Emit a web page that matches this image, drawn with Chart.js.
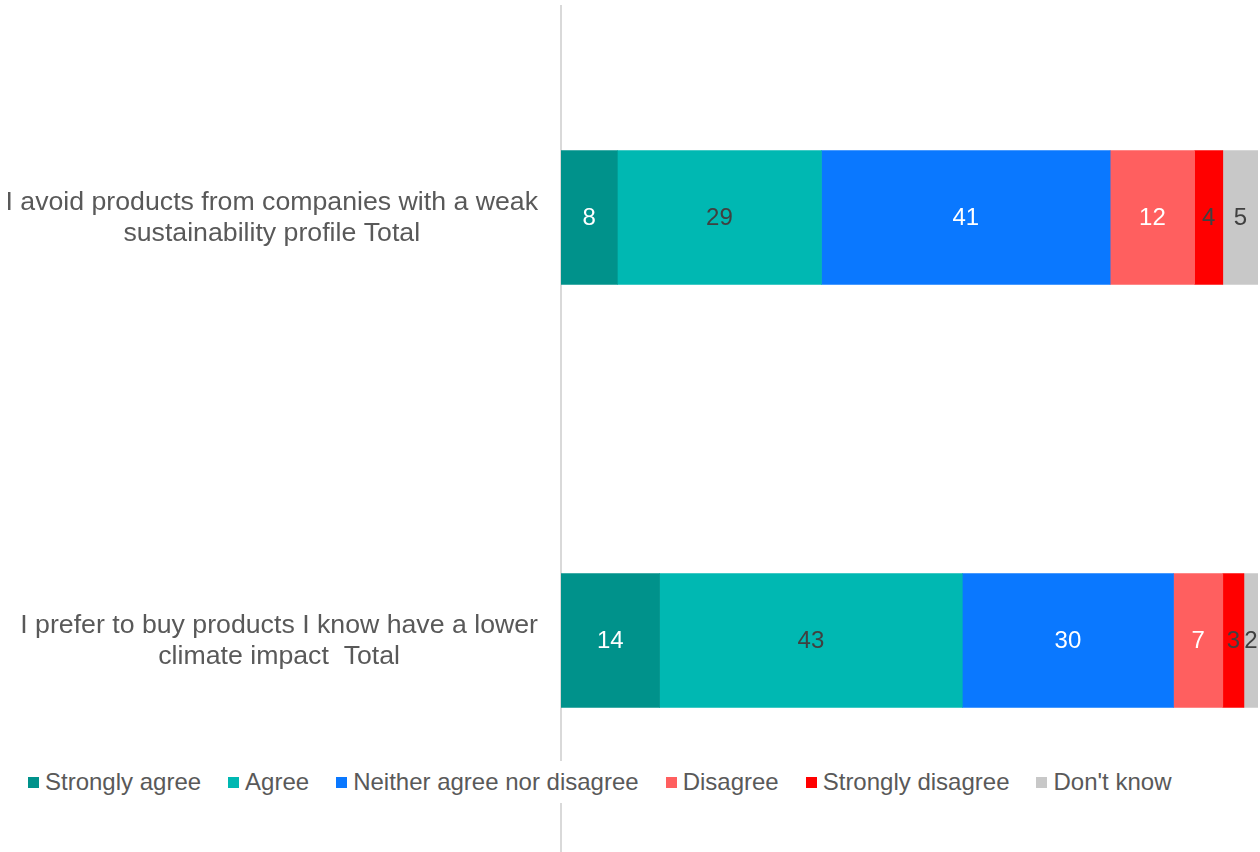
<!DOCTYPE html>
<html>
<head>
<meta charset="utf-8">
<title>Climate impact and sustainability attitudes</title>
<script src="https://cdn.jsdelivr.net/npm/chart.js@4.4.1/dist/chart.umd.min.js"></script>
<style>
  html, body { margin: 0; padding: 0; background: #fff; }
  #wrap { position: relative; width: 1260px; height: 852px; }
  #legend {
    position: absolute; left: 22px; top: 761px; height: 42px;
    display: flex; align-items: center; background: #fff;
    padding: 0 8px 0 6px;
    font-family: "Liberation Sans", Arial, sans-serif; font-size: 24px; color: #595959;
  }
  #legend .item { display: flex; align-items: center; margin-right: 27px; }
  #legend .item:last-child { margin-right: 0; }
  #legend .sw { width: 11px; height: 11px; margin-right: 6px; }
</style>
</head>
<body>
<div id="wrap">
  <canvas id="chart"></canvas>
  <div id="legend"></div>
</div>
<script>
// ── Data ─────────────────────────────────────────────
const statements = [
  ['I avoid products from companies with a weak', 'sustainability profile Total'],
  ['I prefer to buy products I know have a lower', 'climate impact  Total'],
]
const answers        = ['Strongly agree', 'Agree', 'Neither agree nor disagree', 'Disagree', 'Strongly disagree', "Don't know"]
const stronglyAgree  = [8, 14]
const agree          = [29, 43]
const neither        = [41, 30]
const disagree       = [12, 7]
const stronglyDis    = [4, 3]
const dontKnow       = [5, 2]

const series     = [stronglyAgree, agree, neither, disagree, stronglyDis, dontKnow]
const colors     = ['#00928B', '#00B8B2', '#0A78FF', '#FF5F5F', '#FF0000', '#C8C8C8']
const textColors = ['#ffffff', '#404040', '#ffffff', '#ffffff', '#404040', '#404040']

const FONT = '"Liberation Sans", Arial, sans-serif'
const totals = statements.map((_, i) => series.reduce((s, arr) => s + arr[i], 0))

// ── Category labels: each one centred on its own widest line ──
const categoryLabels = {
  id: 'categoryLabels',
  afterDraw(chart) {
    const ctx = chart.ctx
    const yScale = chart.scales.y
    const right = chart.chartArea.left - 23
    const lineH = 31
    ctx.save()
    ctx.font = '26.7px ' + FONT
    ctx.fillStyle = '#595959'
    ctx.textAlign = 'center'
    ctx.textBaseline = 'middle'
    chart.data.labels.forEach((lines, i) => {
      const widest = Math.max(...lines.map(l => ctx.measureText(l).width))
      const cx = right - widest / 2
      const cy = yScale.getPixelForValue(i) + 1
      lines.forEach((line, k) => {
        ctx.fillText(line, cx, cy + (k - (lines.length - 1) / 2) * lineH)
      })
    })
    ctx.restore()
  },
}

// ── Value labels inside each segment ─────────────────
const valueLabels = {
  id: 'valueLabels',
  afterDatasetsDraw(chart) {
    const ctx = chart.ctx
    ctx.save()
    ctx.font = '24px ' + FONT
    ctx.textAlign = 'center'
    ctx.textBaseline = 'middle'
    chart.data.datasets.forEach((ds, di) => {
      chart.getDatasetMeta(di).data.forEach((bar, i) => {
        const cx = (bar.x + bar.base) / 2
        ctx.fillStyle = textColors[di]
        ctx.fillText(String(ds.data[i]), cx, bar.y + 1)
      })
    })
    ctx.restore()
  },
}

new Chart(document.getElementById('chart'), {
  type: 'bar',
  data: {
    labels: statements,
    datasets: answers.map((name, i) => ({
      label: name,
      data: series[i],
      backgroundColor: colors[i],
      borderWidth: 0,
      barThickness: 134,
    })),
  },
  options: {
    indexAxis: 'y',
    responsive: true,
    maintainAspectRatio: false,
    animation: false,
    layout: { padding: { top: 6, right: 2, bottom: -2, left: 0 } },
    plugins: {
      legend: { display: false },
      tooltip: { enabled: false },
    },
    scales: {
      x: {
        stacked: true,
        display: false,
        min: 0,
        max: Math.max(...totals),
      },
      y: {
        stacked: true,
        grid: { display: false, drawTicks: false },
        border: { display: true, color: '#D9D9D9', width: 2 },
        ticks: { display: false },
        afterFit(scale) { scale.width = 561 },
      },
    },
  },
  plugins: [valueLabels, categoryLabels],
})

// ── Legend row ───────────────────────────────────────
const legend = document.getElementById('legend')
answers.forEach((name, i) => {
  const item = document.createElement('div')
  item.className = 'item'
  item.innerHTML = `<span class="sw" style="background:${colors[i]}"></span><span>${name}</span>`
  legend.appendChild(item)
})
</script>
</body>
</html>
